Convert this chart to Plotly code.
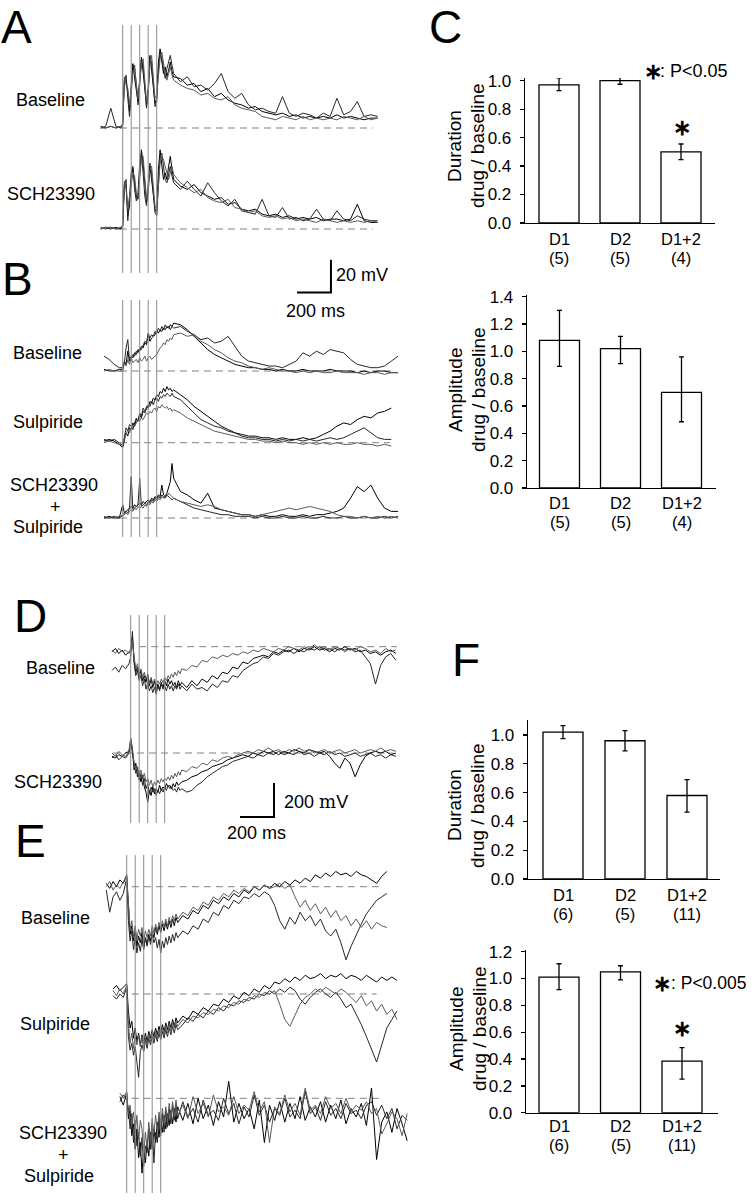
import plotly.graph_objects as go

# ---------------- DATA ----------------
# time samples (ms, 0 = first stimulus)
t_A = [-130, -100, -70, -40, -10,
       0, 10, 20, 30, 40, 50, 60, 70, 80, 90, 100, 110, 120, 130, 140, 150, 160, 170, 180, 190, 200,
       210, 220, 230, 240, 250, 260, 270, 280, 290, 300,
       340, 380, 420, 460, 500, 540, 580, 620, 660, 700, 740, 780, 820, 860, 900, 940, 980, 1020, 1060,
       1100, 1140, 1180, 1220, 1260, 1300, 1340, 1380, 1420, 1460, 1500]
t_B = [-110, -80, -50, -20,
       0, 10, 20, 30, 40, 50, 60, 70, 80, 90, 100, 110, 120, 130, 140, 150, 160, 170, 180, 190, 200,
       210, 220, 230, 240, 250, 260, 270, 280, 290, 300,
       340, 380, 420, 460, 500, 540, 580, 620, 660, 700, 740, 780, 820, 860, 900, 940, 980, 1020, 1060,
       1100, 1140, 1180, 1220, 1260, 1300, 1340, 1380, 1420, 1460, 1500, 1540, 1580, 1620]
t_D = [-110, -90, -70, -50, -30, -10,
       0, 10, 20, 30, 40, 50, 60, 70, 80, 90, 100, 110, 120, 130, 140, 150, 160, 170, 180, 190, 200,
       210, 220, 230, 240, 250, 260, 270, 280, 290, 300,
       330, 360, 390, 420, 450, 480, 510, 540, 570, 600, 630, 660, 690, 720, 750, 780, 810, 840, 870, 900,
       930, 960, 990, 1020, 1050, 1080, 1110, 1140, 1170, 1200, 1230, 1260, 1290, 1320, 1350, 1380,
       1410, 1440, 1470, 1500, 1530, 1560]
t_E = [-120, -100, -80, -60, -40, -20,
       0, 10, 20, 30, 40, 50, 60, 70, 80, 90, 100, 110, 120, 130, 140, 150, 160, 170, 180, 190, 200,
       210, 220, 230, 240, 250, 260, 270, 280, 290, 300,
       330, 360, 390, 420, 450, 480, 510, 540, 570, 600, 630, 660, 690, 720, 750, 780, 810, 840, 870, 900,
       930, 960, 990, 1020, 1050, 1080, 1110, 1140, 1170, 1200, 1230, 1260, 1290, 1320, 1350, 1380,
       1410, 1440, 1470, 1500, 1530, 1560, 1590, 1620, 1650]
stim_times = [0, 50, 100, 150, 200]
N = None

# Panel A (mV)
A_base_1 = [1, 0, 1, 0, 1,
            2, 30, 28, 22, 10, 26, 39, 30, 22, 16, 30, 43, 34, 22, 14, 24, 44, 35, 24, 15, 18, 40, 48, 40, 33, 37, 31, 35, 40, 34, 31,
            30, 26, 27, 22, 24, 19, 21, 17, 15, 14, 12, 13, 10, 9, 8, 9, 7, 8, 6, 7, 6, 7, 6, 8, 6, 7, 6, 5, 6, 6]
A_base_2 = [0, 1, 12, 1, 0,
            3, 28, 32, 18, 7, 20, 36, 38, 24, 14, 26, 41, 38, 25, 12, 20, 42, 40, 26, 13, 16, 36, 45, 42, 36, 30, 36, 40, 44, 38, 33,
            28, 31, 25, 26, 23, 27, 33, 22, 18, 21, 14, 11, 12, 10, 9, 19, 9, 7, 9, 8, 6, 9, 7, 18, 8, 10, 16, 7, 8, 7]
A_base_3 = [0, 0, 1, 0, 1,
            1, 31, 26, 24, 14, 24, 34, 36, 28, 18, 28, 38, 42, 28, 16, 22, 38, 44, 30, 18, 20, 34, 42, 46, 38, 33, 29, 34, 37, 32, 29,
            26, 24, 23, 20, 21, 18, 17, 19, 14, 12, 11, 10, 7, 6, 5, 7, 6, 5, 7, 5, 6, 5, 6, 5, 7, 6, 5, 7, 5, 6]
A_sch_1 = [0, 1, 0, 1, 0,
           2, 28, 26, 8, 14, 30, 37, 28, 20, 18, 34, 48, 40, 26, 16, 22, 38, 30, 22, 12, 10, 36, 48, 40, 30, 34, 30, 38, 44, 36, 30,
           26, 24, 27, 22, 20, 18, 19, 15, 16, 12, 11, 12, 9, 8, 9, 7, 8, 6, 7, 6, 7, 5, 6, 6, 5, 6, 15, 5, 4, 4]
A_sch_2 = [1, 0, 1, 0, 1,
           1, 26, 30, 5, 18, 34, 38, 24, 17, 22, 40, 46, 34, 20, 14, 30, 40, 34, 24, 10, 8, 30, 44, 46, 38, 30, 28, 34, 38, 32, 28,
           24, 29, 24, 20, 28, 22, 17, 14, 18, 11, 10, 9, 18, 8, 7, 13, 6, 7, 5, 6, 12, 6, 5, 11, 6, 5, 8, 6, 5, 5]
A_sch_3 = [0, 1, 1, 0, 0,
           3, 29, 24, 12, 20, 26, 34, 32, 22, 20, 30, 42, 44, 30, 18, 26, 36, 38, 28, 14, 12, 26, 40, 44, 42, 38, 33, 30, 34, 38, 33,
           28, 25, 22, 24, 19, 17, 16, 18, 13, 12, 10, 11, 8, 7, 8, 6, 7, 5, 6, 5, 4, 6, 5, 4, 5, 4, 5, 4, 5, 4]

# Panel B (mV)
B_base_1 = [1, 0, 0, 1,
            1, 6, 4, 12, 6, 9, 8, 11, 10, 13, 12, 15, 14, 17, 16, 22, 18, 20, 21, 22, 24, 23, 25, 24, 26, 25, 27, 26, 28, 27, 29,
            28, 25, 21, 17, 13, 10, 8, 6, 4, 3, 2, 2, 1, 1, 0, 1, 0, 0, 1, 0, 0, 0, 1, 0, 0, 0, -1, 0, -1, 0, 0, -1, -1]
B_base_2 = [9, 7, 4, 2,
            2, 5, 14, 19, 6, 8, 10, 9, 12, 11, 14, 13, 16, 18, 17, 23, 20, 22, 21, 24, 23, 26, 24, 27, 25, 28, 26, 27, 25, 27, 26,
            27, 24, 22, 19, 20, 17, 18, 21, 15, 9, 6, 5, 4, 3, 3, 2, 4, 6, 11, 9, 12, 10, 13, 12, 11, 7, 4, 3, 2, 2, 3, 6, 9]
B_base_3 = [0, 1, 0, 0,
            0, 5, 3, 7, 4, 8, 5, 6, 7, 5, 8, 6, 7, 9, 6, 8, 9, 7, 8, 9, 10, 12, 14, 15, 17, 16, 19, 18, 20, 19, 22,
            23, 21, 22, 18, 16, 13, 11, 8, 6, 5, 3, 2, 1, 2, 1, 0, 0, -1, 0, -1, 0, -1, -1, 0, -1, -1, -1, -2, -1, -1, -2, -1, -1]
B_sulp_1 = [1, 2, 1, -1,
            -3, 2, 6, 4, 9, 8, 12, 10, 14, 13, 17, 15, 19, 18, 22, 21, 25, 24, 27, 26, 29, 28, 31, 30, 33, 31, 34, 32, 33, 31, 32,
            29, 26, 22, 19, 16, 13, 10, 8, 6, 5, 4, 4, 3, 3, 2, 3, 2, 2, 3, 2, 3, 5, 7, 10, 12, 11, 14, 16, 15, 18, 19, 21, N]
B_sulp_2 = [2, 1, 2, 0,
            -2, 4, 9, 7, 11, 10, 8, 12, 15, 13, 18, 16, 21, 19, 20, 23, 22, 25, 23, 26, 27, 25, 28, 27, 29, 28, 30, 29, 28, 30, 28,
            26, 22, 18, 14, 12, 10, 9, 7, 6, 4, 3, 3, 2, 2, 1, 2, 1, 2, 1, 2, 1, 2, 3, 2, 3, 5, 7, 9, 6, 3, 2, 2, N]
B_sulp_3 = [0, 1, 0, -1,
            -1, 3, 5, 8, 6, 9, 11, 10, 12, 14, 13, 15, 14, 16, 18, 17, 19, 18, 20, 21, 19, 22, 21, 23, 22, 21, 22, 20, 21, 19, 20,
            18, 15, 13, 11, 9, 7, 6, 5, 4, 3, 2, 2, 1, 1, 0, 1, 0, 0, -1, 0, -1, 0, -1, 0, -1, -1, 0, -1, -1, -2, -1, -2, N]
B_schs_1 = [0, 1, 0, 0,
            8, 3, 4, 5, 6, 7, 6, 8, 7, 8, 9, 8, 10, 9, 10, 11, 10, 12, 11, 13, 12, 14, 13, 20, 14, 13, 15, 18, 22, 33, 24,
            16, 14, 11, 9, 15, 6, 5, 4, 3, 2, 2, 1, 2, 1, 1, 2, 1, 1, 2, 1, 2, 2, 3, 4, 6, 12, 19, 16, 20, 12, 6, 4, 4]
B_schs_2 = [0, 0, 1, 0,
            2, 3, 4, 3, 6, 25, 5, 6, 7, 8, 24, 7, 8, 9, 8, 10, 9, 11, 10, 12, 11, 13, 12, 14, 13, 12, 14, 13, 12, 11, 12,
            10, 8, 6, 5, 4, 3, 2, 2, 1, 1, 1, 0, 1, 0, 0, 1, 0, 0, 1, 0, 0, 1, 0, 0, 1, 0, 0, 1, 0, 0, 1, 0, 1]
B_schs_3 = [1, 0, 0, 1,
            1, 2, 3, 2, 4, 5, 4, 6, 5, 7, 6, 7, 6, 8, 7, 9, 8, 10, 9, 11, 10, 12, 11, 13, 12, 14, 13, 15, 14, 13, 12,
            10, 9, 8, 7, 8, 7, 5, 4, 3, 2, 2, 1, 2, 3, 4, 5, 6, 5, 6, 7, 6, 5, 4, 2, 1, 1, 0, 1, 0, 1, 0, 1, 0]

# Panel D (uV)
D_base_1 = [-30, -10, -40, -20, -50, -30,
            -20, 60, -80, -150, -120, -180, -140, -200, -170, -210, -160, -230, -190, -240, -200, -260, -220, -250, -210, -240,
            -200, -230, -190, -220, -200, -230, -210, -240, -200, -230, -210,
            -240, -200, -230, -190, -210, -170, -190, -150, -160, -120, -130, -90, -100, -70, -60, -50, -60, -30, -40, -20,
            -30, -10, -30, -10, -20, 0, -20, -10, -30, -10, -20, 0, -20, -10, -30, -20, -40, -30, -50, -30, -20, -40]
D_base_2 = [-140, -120, -150, -110, -130, -100,
            -60, 90, -100, -170, -140, -200, -170, -230, -190, -250, -210, -260, -230, -270, -240, -280, -230, -260, -220, -250,
            -230, -260, -220, -250, -230, -260, -230, -250, -220, -250, -230,
            -260, -220, -250, -240, -260, -220, -240, -200, -210, -170, -180, -140, -120, -100, -90, -60, -70, -40, -50, -30,
            -20, -40, -20, -30, -10, -20, 0, -20, -10, -30, -10, -20, -10, -30, -20, -60, -100, -220, -110, -60, -40, -80]
D_base_3 = [-20, -40, -10, -30, -20, -40,
            -10, 40, -60, -130, -100, -160, -130, -180, -150, -190, -170, -210, -180, -220, -190, -230, -200, -220, -190, -210,
            -180, -200, -170, -190, -160, -180, -150, -170, -140, -160, -130,
            -140, -110, -120, -80, -90, -60, -70, -50, -60, -40, -50, -30, -40, -20, -30, -10, -20, -30, -10, -20,
            0, -10, -20, 0, -10, 10, -10, 0, -20, 0, -10, -30, -10, -20, 0, -10, -30, -20, -40, -10, -30, -20]
D_sch_1 = [-20, -30, -10, -20, 0, 10,
           80, 20, -100, -60, -140, -110, -170, -130, -200, -230, -290, -220, -250, -200, -240, -210, -230, -190, -220, -200,
           -210, -180, -200, -190, -210, -180, -200, -170, -190, -180, -170,
           -160, -140, -130, -110, -100, -80, -70, -60, -40, -30, -20, -10, -20, 0, -10, 10, 0, 10, -10, 10,
           0, 20, 10, 0, 20, 10, 0, 10, -20, -60, -90, -30, -60, -140, -70, -20, 0, 10, 0, 10, -10, 0]
D_sch_2 = [-30, -10, -40, -20, -30, 0,
           60, 0, -80, -120, -90, -160, -120, -190, -150, -210, -180, -240, -200, -230, -210, -250, -220, -240, -210, -230,
           -200, -220, -190, -210, -200, -220, -210, -230, -200, -220, -210,
           -230, -220, -190, -170, -140, -120, -100, -80, -70, -50, -40, -30, -20, -30, -10, -20, 0, -10, 10, -10,
           0, -10, 10, -10, 0, -20, 0, -10, 10, -10, 0, -20, -10, 0, -20, -10, 0, -20, -10, -30, -10, -20]
D_sch_3 = [0, -20, 10, -10, -20, 10,
           90, 30, -60, -100, -80, -130, -100, -150, -120, -170, -150, -190, -160, -200, -170, -190, -160, -180, -150, -170,
           -150, -160, -140, -160, -130, -150, -120, -140, -110, -130, -100,
           -110, -80, -90, -60, -70, -40, -50, -30, -20, -30, -10, 0, 10, 0, 20, 10, 30, 10, 20, 0,
           20, 10, 30, 10, 20, 0, 10, 20, 0, 10, 20, 0, 10, 20, 0, 10, 20, 10, 30, 10, 20, 10]

# Panel E (uV)
E_base_1 = [20, -10, 30, 0, 40, 20,
            70, -150, -280, -230, -320, -260, -350, -290, -330, -270, -360, -300, -340, -280, -320, -260, -300, -240, -280, -230,
            -270, -220, -260, -210, -250, -200, -240, -190, -230, -180, -210,
            -170, -190, -140, -160, -110, -130, -80, -100, -60, -80, -40, -60, -20, -40, 0, -20, 10, -10, 20, 0,
            30, 10, 40, 20, 50, 30, 70, 50, 80, 60, 90, 70, 80, 60, 90, 70, 60, 40, 20, 60, 90, N, N, N, N]
E_base_2 = [-20, -150, -60, -30, -80, -40,
            50, -200, -320, -260, -370, -300, -390, -330, -380, -310, -370, -300, -350, -290, -340, -280, -330, -300, -360, -310,
            -390, -320, -360, -300, -340, -290, -330, -280, -320, -270, -300,
            -260, -280, -230, -250, -190, -210, -150, -170, -110, -130, -80, -100, -60, -70, -40, -60, -30, -50, -110, -200,
            -250, -180, -220, -150, -200, -170, -230, -190, -260, -290, -250, -330, -430, -350, -280, -220, -160, -120, -80, -60,
            -40, N, N, N, N]
E_base_3 = [0, 30, -20, 10, -10, 30,
            60, -120, -250, -200, -290, -230, -310, -250, -290, -240, -320, -260, -300, -250, -290, -230, -270, -220, -260, -210,
            -250, -200, -240, -190, -230, -180, -220, -170, -200, -160, -190,
            -150, -170, -120, -140, -90, -110, -60, -80, -40, -60, -20, -40, -10, -30, 0, -20, 10, -10, 0, 20,
            -10, 10, -60, -120, -80, -140, -100, -160, -120, -180, -140, -200, -170, -230, -190, -240, -200, -250, -210, -230,
            -240, N, N, N, N]
E_sulp_1 = [N, N, 30, 50, 20, 40,
            60, -100, -200, -160, -260, -200, -280, -230, -300, -240, -290, -230, -280, -220, -260, -210, -250, -200, -240, -190,
            -230, -180, -220, -170, -210, -160, -200, -150, -190, -140, -170,
            -130, -150, -100, -120, -80, -100, -60, -70, -30, -50, -10, -30, 10, -10, 30, 10, 50, 30, 70, 60,
            90, 70, 100, 80, 110, 90, 100, 120, 90, 110, 100, 120, 90, 110, 100, 80, 110, 90, 70, 100, 80, 100, 80, N, N]
E_sulp_2 = [N, N, -10, -30, 0, -20,
            40, -250, -330, -290, -360, -310, -400, -490, -340, -300, -340, -270, -320, -260, -300, -250, -290, -240, -280, -230,
            -270, -220, -260, -210, -250, -200, -240, -190, -230, -180, -210,
            -180, -140, -160, -120, -140, -100, -120, -80, -100, -60, -70, -40, -50, -20, -30, 0, -10, 20, 0, 30,
            10, 40, 20, -30, -60, -20, 10, 30, 0, -20, 10, -30, -80, -60, -120, -180, -250, -330, -400, -300,
            -200, -150, -100, N, N]
E_sulp_3 = [N, N, 20, -10, 30, 0,
            50, -170, -290, -230, -320, -250, -300, -240, -310, -250, -330, -260, -300, -240, -280, -230, -270, -220, -260, -210,
            -250, -200, -240, -190, -230, -180, -220, -170, -200, -160, -190,
            -150, -170, -130, -140, -110, -120, -90, -100, -70, -80, -50, -60, -30, -40, -10, -20, 10, 0, 20, -60,
            -150, -190, -120, -60, -20, 0, 30, 10, 40, 20, 0, 30, 10, -20, -50, -10, -70, -40, -100, -60,
            -120, -90, -150, N, N]
E_schs_1 = [N, N, N, N, 10, -40,
            30, -120, -60, -220, -150, -300, -180, -350, -260, -440, -300, -380, -250, -340, -200, -300, -180, -260, -140, -230,
            -120, -200, -100, -180, -90, -160, -70, -150, -60, -140, -50,
            -130, -30, -150, 0, -120, -40, -160, -20, -110, 100, -140, -30, -120, -60, -180, -10, -260, -40, -130, -20,
            -140, -30, -120, 10, -130, -50, -110, -20, -140, -40, -120, -10, -150, -60, -110, -30, -160, 60, -360, -140,
            -80, -200, -60, -150, -250]
E_schs_2 = [N, N, N, N, -20, 20,
            -10, -60, -180, -90, -260, -130, -280, -200, -340, -230, -400, -280, -320, -180, -300, -150, -380, -200, -260, -110,
            -220, -90, -200, -70, -170, -60, -150, -40, -130, -30, -120,
            -20, -110, -60, -140, -10, -100, -70, -130, 0, -90, -30, -150, -50, -110, 20, -100, -40, -140, -60, -100,
            0, -110, -70, -120, 40, -90, -50, -130, -20, -100, -60, -120, -30, -90, -70, -120, -40, -20, -100, -40,
            -120, -60, -180, -100, -130]
E_schs_3 = [N, N, N, N, 30, 0,
            40, -90, -40, -150, -80, -200, -100, -240, -130, -180, -330, -200, -290, -140, -250, -120, -210, -100, -190, -80,
            -170, -60, -150, -50, -130, -30, -120, -20, -110, -10, -100,
            -40, -120, 10, -90, -30, -110, 20, -80, -50, -100, 10, -90, -40, -70, 40, -80, -20, -260, -50, -90,
            20, -80, -30, -100, 60, -70, -40, -90, 10, -60, -30, -90, 0, -80, -40, -70, -20, -90, -60, -210,
            -150, -80, -120, -220, -90]

# Bar chart data (drug / baseline ratios)
categories = ["D1", "D2", "D1+2"]
C_n = ["(5)", "(5)", "(4)"]
F_n = ["(6)", "(5)", "(11)"]
C_dur_mean = [0.97, 1.00, 0.50]
C_dur_plus = [0.05, 0.03, 0.055]
C_dur_minus = [0.04, 0.025, 0.055]
C_amp_mean = [1.08, 1.02, 0.70]
C_amp_plus = [0.22, 0.09, 0.26]
C_amp_minus = [0.19, 0.11, 0.215]
F_dur_mean = [1.02, 0.96, 0.58]
F_dur_plus = [0.045, 0.07, 0.11]
F_dur_minus = [0.045, 0.07, 0.115]
F_amp_mean = [1.01, 1.05, 0.385]
F_amp_plus = [0.10, 0.045, 0.10]
F_amp_minus = [0.093, 0.06, 0.135]

SCALE_MS = 200
SCALE_MV = 20
SCALE_UV = 200

# ---------------- LAYOUT HELPERS ----------------
W, H = 752, 1200
FONT = "Liberation Sans, Arial, Helvetica, sans-serif"
PX_PER_MS = 0.17


def fx(p):
    return p / W


def fy(p):
    return 1 - p / H


fig = go.Figure()
axes = {}
counter = [0]


def new_axes(xpx, ypx, xr, yr, xextra=None, yextra=None):
    counter[0] += 1
    i = counter[0]
    s = "" if i == 1 else str(i)
    xa = dict(domain=[fx(xpx[0]), fx(xpx[1])], range=xr, visible=False, anchor="y" + s,
              showgrid=False, zeroline=False, fixedrange=True)
    ya = dict(domain=[fy(ypx[1]), fy(ypx[0])], range=yr, visible=False, anchor="x" + s,
              showgrid=False, zeroline=False, fixedrange=True)
    if xextra:
        xa.update(xextra)
    if yextra:
        ya.update(yextra)
    axes["xaxis" + s] = xa
    axes["yaxis" + s] = ya
    return "x" + s, "y" + s


colors = ["#000000", "#262626", "#5a5a5a"]
rows = [
    dict(t=t_A, tr=[A_base_1, A_base_2, A_base_3], x0=122.7, yb=128, s=1.65, up=95, down=12, dash=(-16, 1472)),
    dict(t=t_A, tr=[A_sch_1, A_sch_2, A_sch_3], x0=122.7, yb=229, s=1.65, up=95, down=12, dash=(-16, 1472)),
    dict(t=t_B, tr=[B_base_1, B_base_2, B_base_3], x0=122.7, yb=371, s=1.65, up=120, down=12, dash=(-16, 1600)),
    dict(t=t_B, tr=[B_sulp_1, B_sulp_2, B_sulp_3], x0=122.7, yb=442.7, s=1.65, up=65, down=12, dash=(-16, 1572)),
    dict(t=t_B, tr=[B_schs_1, B_schs_2, B_schs_3], x0=122.7, yb=518, s=1.65, up=65, down=12, dash=(-16, 1612)),
    dict(t=t_D, tr=[D_base_1, D_base_2, D_base_3], x0=130.7, yb=646.7, s=0.17, up=25, down=65, dash=(50, 1566)),
    dict(t=t_D, tr=[D_sch_1, D_sch_2, D_sch_3], x0=130.7, yb=753, s=0.17, up=25, down=72, dash=(-104, 1543)),
    dict(t=t_E, tr=[E_base_1, E_base_2, E_base_3], x0=126.7, yb=886.7, s=0.17, up=25, down=85, dash=(30, 1500)),
    dict(t=t_E, tr=[E_sulp_1, E_sulp_2, E_sulp_3], x0=126.7, yb=994, s=0.17, up=28, down=92, dash=(30, 1470)),
    dict(t=t_E, tr=[E_schs_1, E_schs_2, E_schs_3], x0=126.7, yb=1098.3, s=0.17, up=28, down=88, dash=(30, 1509)),
]

row_axes = []
for r in rows:
    xr = [(95 - r["x0"]) / PX_PER_MS, (410 - r["x0"]) / PX_PER_MS]
    yr = [-r["down"] / r["s"], r["up"] / r["s"]]
    xa, ya = new_axes((95, 410), (r["yb"] - r["up"], r["yb"] + r["down"]), xr, yr)
    row_axes.append((xa, ya))
    fig.add_trace(go.Scatter(x=list(r["dash"]), y=[0, 0], mode="lines", xaxis=xa, yaxis=ya,
                             line=dict(color="#808080", width=1, dash="7px,5px"), hoverinfo="skip"))
    for k, yv in enumerate(r["tr"]):
        fig.add_trace(go.Scatter(x=r["t"], y=yv, mode="lines", xaxis=xa, yaxis=ya,
                                 line=dict(color=colors[k], width=1.0), hoverinfo="skip"))

# scale bars
xa, ya = row_axes[2]
sb_t, sb_v = 1225, 47.5
fig.add_trace(go.Scatter(x=[sb_t - SCALE_MS, sb_t, sb_t], y=[sb_v, sb_v, sb_v + SCALE_MV], mode="lines",
                         xaxis=xa, yaxis=ya, line=dict(color="black", width=2), hoverinfo="skip"))
xa, ya = row_axes[6]
sb_t, sb_v = 843, -376
fig.add_trace(go.Scatter(x=[sb_t - SCALE_MS, sb_t, sb_t], y=[sb_v, sb_v, sb_v + SCALE_UV], mode="lines",
                         xaxis=xa, yaxis=ya, line=dict(color="black", width=2), hoverinfo="skip"))

# stimulus lines
shapes = []
for (ax_i, segs) in [(0, [(25, 273), (300, 537)]), (5, [(615, 823)]), (7, [(855, 1193)])]:
    xa = row_axes[ax_i][0]
    for st in stim_times:
        for (p0, p1) in segs:
            shapes.append(dict(type="line", xref=xa, yref="paper", x0=st, x1=st, y0=fy(p1), y1=fy(p0),
                               line=dict(color="#8c8c8c", width=1)))

annotations = []


def txt(text, px, py, size, xanchor="center", yanchor="middle", angle=0, xref="paper", xval=None):
    annotations.append(dict(text=text, x=fx(px) if xval is None else xval, y=fy(py), xref=xref, yref="paper",
                            showarrow=False, xanchor=xanchor, yanchor=yanchor, textangle=angle,
                            borderpad=0, font=dict(family=FONT, size=size, color="black")))


# bar panels
bar_specs = [
    dict(mean=C_dur_mean, ep=C_dur_plus, em=C_dur_minus, n=C_n, xl=525, xr=715, c0=559, d=61,
         zero=223, s=142.3, top=78, ticks=[0, 0.2, 0.4, 0.6, 0.8, 1.0], lab=(239, 257.5),
         title=("Duration", "drug / baseline"), tx=(454, 477), ty=146),
    dict(mean=C_amp_mean, ep=C_amp_plus, em=C_amp_minus, n=C_n, xl=527, xr=716, c0=559.5, d=61,
         zero=488, s=136.6, top=295, ticks=[0, 0.2, 0.4, 0.6, 0.8, 1.0, 1.2, 1.4], lab=(503, 522),
         title=("Amplitude", "drug / baseline"), tx=(456, 479), ty=390),
    dict(mean=F_dur_mean, ep=F_dur_plus, em=F_dur_minus, n=F_n, xl=528, xr=720, c0=563, d=62,
         zero=879, s=144, top=720, ticks=[0, 0.2, 0.4, 0.6, 0.8, 1.0], lab=(895, 914),
         title=("Duration", "drug / baseline"), tx=(455, 478), ty=805),
    dict(mean=F_amp_mean, ep=F_amp_plus, em=F_amp_minus, n=F_n, xl=526, xr=718, c0=559, d=61.5,
         zero=1112.7, s=134.2, top=950, ticks=[0, 0.2, 0.4, 0.6, 0.8, 1.0, 1.2], lab=(1126, 1145),
         title=("Amplitude", "drug / baseline"), tx=(456, 479), ty=1029),
]
for b in bar_specs:
    xr = [(b["xl"] - b["c0"]) / b["d"], (b["xr"] - b["c0"]) / b["d"]]
    yr = [0, (b["zero"] - b["top"]) / b["s"]]
    xa, ya = new_axes(
        (b["xl"], b["xr"]), (b["top"], b["zero"]), xr, yr,
        xextra=dict(visible=True, showline=True, linecolor="black", linewidth=1.3, ticks="",
                    showticklabels=False),
        yextra=dict(visible=True, showline=True, linecolor="black", linewidth=1.3, ticks="outside",
                    ticklen=4, tickwidth=1.3, tickcolor="black", tickvals=b["ticks"], tickformat=".1f",
                    tickfont=dict(family=FONT, size=17, color="black"), ticklabelstandoff=5))
    fig.add_trace(go.Bar(x=[0, 1, 2], y=b["mean"], width=40 / b["d"], xaxis=xa, yaxis=ya,
                         marker=dict(color="white", line=dict(color="black", width=1.3)),
                         error_y=dict(type="data", array=b["ep"], arrayminus=b["em"], symmetric=False,
                                      color="black", thickness=1.3, width=2.5),
                         hoverinfo="skip"))
    for i in range(3):
        txt(categories[i], 0, b["lab"][0], 16.5, xref=xa, xval=i)
        txt(b["n"][i], 0, b["lab"][1], 16.5, xref=xa, xval=i)
    txt(b["title"][0], b["tx"][0], b["ty"], 19, angle=-90)
    txt(b["title"][1], b["tx"][1], b["ty"], 19, angle=-90)

STAR = "<b>\u2217</b>"
txt(STAR, 652.5, 71, 22)
txt(": P<0.05", 659, 71, 18, xanchor="left")
txt(STAR, 682, 127, 22)
txt(STAR, 662, 983, 22)
txt(": P<0.005", 670, 983, 17.5, xanchor="left")
txt(STAR, 682, 1028, 22)

# row labels
for (s, px, py) in [("Baseline", 51, 100), ("SCH23390", 51, 193.5),
                    ("Baseline", 47, 353), ("Sulpiride", 48, 422), ("SCH23390", 54, 485), ("+", 55, 507),
                    ("Sulpiride", 48, 527),
                    ("Baseline", 60.5, 668), ("SCH23390", 58, 781.5),
                    ("Baseline", 55, 918), ("Sulpiride", 54.5, 1024), ("SCH23390", 63, 1133), ("+", 63, 1155),
                    ("Sulpiride", 58.5, 1176)]:
    txt(s, px, py, 18)

# scale bar labels
txt("20 mV", 335, 275, 18, xanchor="left")
txt("200 ms", 315, 311.5, 18)
txt("200 <span style='font-family:DejaVu Serif'>m</span>V", 283, 801.5, 18, xanchor="left")
txt("200 ms", 256.5, 833, 18)

# panel letters
txt("A", 16, 0, 46, yanchor="top")
txt("C", 445.5, 0, 46, yanchor="top")
for (s, px, py) in [("B", 17.5, 279), ("D", 30, 615.5), ("E", 30, 841), ("F", 466, 659.5)]:
    txt(s, px, py, 46)

fig.update_layout(width=W, height=H, margin=dict(l=0, r=0, t=0, b=0, autoexpand=False), showlegend=False,
                  paper_bgcolor="white", plot_bgcolor="rgba(0,0,0,0)", hovermode=False,
                  shapes=shapes, annotations=annotations, **axes)
fig.write_html("out.html", config={"displayModeBar": False, "staticPlot": True},
               post_script="document.body.style.margin='0';document.body.style.padding='0';")
